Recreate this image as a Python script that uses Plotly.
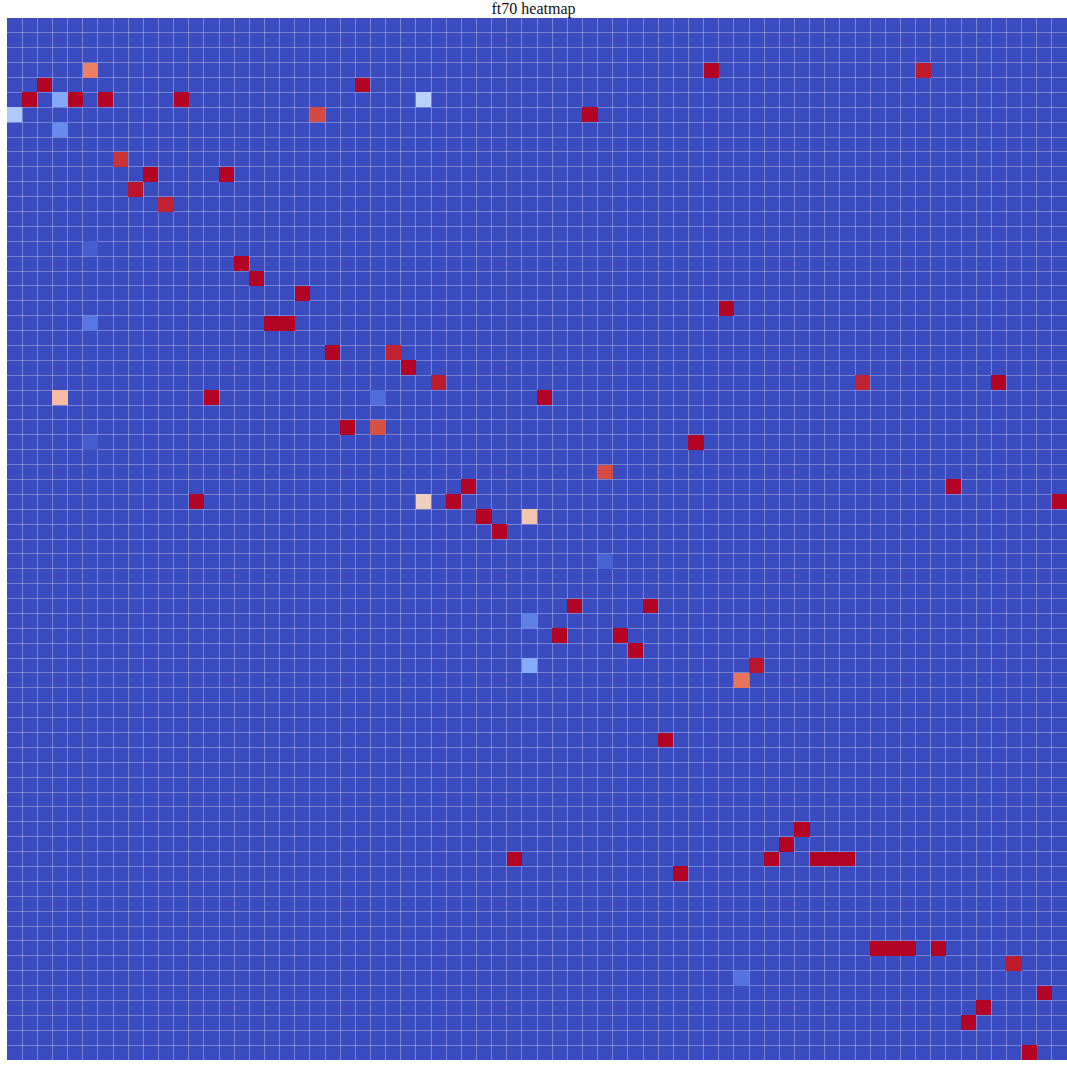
import plotly.graph_objects as go

N = 70
title_text = "ft70 heatmap"

cell_rows = [3, 3, 3, 4, 4, 5, 5, 5, 5, 5, 5, 6, 6, 6, 7, 9, 10, 10, 11, 12, 15,
             16, 17, 18, 19, 20, 20, 20, 22, 22, 23, 24, 24, 24, 25, 25, 25, 25, 27, 27,
             28, 28, 30, 31, 31, 32, 32, 32, 32, 33, 33, 34, 36, 39, 39, 40, 41, 41,
             42, 43, 43, 44, 48, 54, 55, 56, 56, 56, 56, 56, 57,
             62, 62, 62, 62, 63, 64, 65, 66, 67, 69]
cell_cols = [5, 46, 60, 2, 23, 1, 3, 4, 6, 11, 27, 0, 20, 38, 3, 7, 9, 14, 8, 10, 5,
             15, 16, 19, 47, 5, 17, 18, 21, 25, 26, 28, 56, 65, 3, 13, 24, 35, 22, 24,
             5, 45, 39, 30, 62, 12, 27, 29, 69, 31, 34, 32, 39, 37, 42, 34, 36, 40,
             41, 34, 49, 48, 43, 52, 51, 50, 53, 54, 55, 33, 44,
             57, 58, 59, 61, 66, 48, 68, 64, 63, 67]
cell_values = [0.81, 1.0, 0.97, 1.0, 1.0, 1.0, 0.23, 1.0, 1.0, 1.0, 0.38, 0.35, 0.91, 1.0, 0.15, 0.94, 1.0, 1.0,
               0.98, 0.96, 0.04,
               1.0, 1.0, 1.0, 1.0, 0.10, 1.0, 1.0, 1.0, 0.96, 1.0, 0.97, 0.96, 1.0, 0.65, 1.0, 0.08, 1.0, 1.0, 0.90,
               0.04, 1.0, 0.91, 1.0, 1.0, 1.0, 0.58, 1.0, 1.0, 1.0, 0.62, 1.0, 0.05, 1.0, 1.0, 0.12, 1.0, 1.0,
               1.0, 0.24, 0.98, 0.83, 1.0, 1.0, 1.0, 1.0, 1.0, 1.0, 1.0, 1.0, 1.0,
               1.0, 1.0, 1.0, 1.0, 0.97, 0.09, 1.0, 1.0, 1.0, 1.0]

coolwarm = [
    [0.0, "#3b4cc0"], [0.1, "#5977e3"], [0.2, "#7b9ff9"], [0.3, "#9ebeff"],
    [0.4, "#c0d4f5"], [0.5, "#dddcdc"], [0.6, "#f2cbb7"], [0.7, "#f7ac8e"],
    [0.8, "#ee8468"], [0.9, "#d65244"], [1.0, "#b40426"],
]

z = [[None] * N for _ in range(N)]
for r, c, v in zip(cell_rows, cell_cols, cell_values):
    z[r][c] = v

fig = go.Figure(go.Heatmap(
    z=z,
    x=list(range(N)),
    y=list(range(N)),
    colorscale=coolwarm,
    zmin=0, zmax=1,
    showscale=False,
    hoverongaps=False,
))

axis_common = dict(
    showticklabels=False, ticks="", zeroline=False, showline=False,
    showgrid=True, gridcolor="rgba(255,255,255,0.3)", gridwidth=1,
    tickmode="linear", tick0=-0.5, dtick=1,
)
fig.update_xaxes(range=[-0.5, N - 0.5], **axis_common)
fig.update_yaxes(range=[N - 0.5, -0.5], **axis_common)

fig.update_layout(
    width=1067, height=1067,
    margin=dict(l=7, r=0, t=18, b=7),
    paper_bgcolor="white",
    plot_bgcolor="#3b4cc0",
    title=dict(text=title_text, x=0.5, xanchor="center", y=1 - 8 / 1067, yanchor="middle",
               yref="container", font=dict(family="Liberation Serif, Times New Roman, serif", size=16, color="#111")),
)

fig.write_html("out.html", config={"displayModeBar": False})
